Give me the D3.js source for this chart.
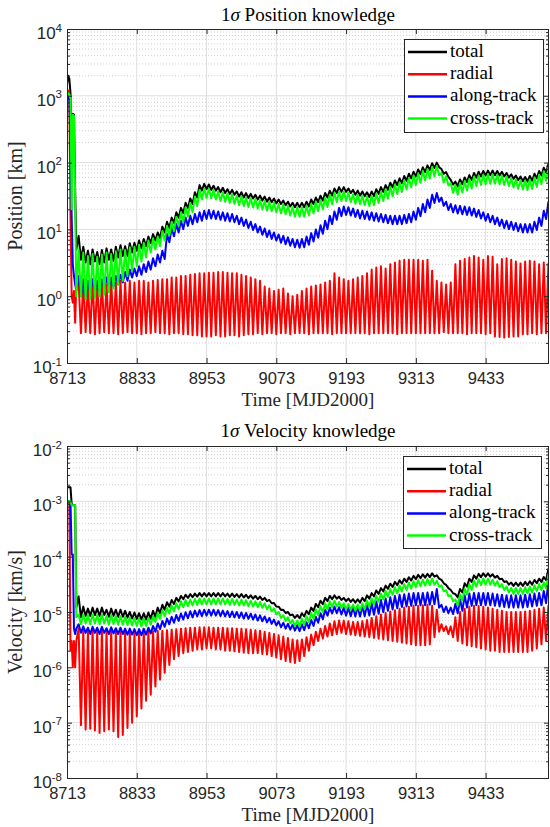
<!DOCTYPE html>
<html><head><meta charset="utf-8">
<script src="https://cdn.jsdelivr.net/npm/d3@7"></script>
<style>body{margin:0;background:#fff}svg{display:block}</style>
</head><body><svg id="c" width="550" height="827"></svg>
<script>
// ---------------- DATA ----------------
const xTicks = [8713, 8833, 8953, 9073, 9193, 9313, 9433];
const posExps = [-1, 0, 1, 2, 3, 4];
const velExps = [-8, -7, -6, -5, -4, -3, -2];
const legendLabels = ["total", "radial", "along-track", "cross-track"];

// launch transient samples (MJD2000)
const earlyT = [8713, 8715, 8717, 8719, 8721, 8723, 8725, 8727, 8729];
const posTotalEarly  = [1500, 2000, 1800, 1100, 60, 540, 520, 40, 5];
const posRadialEarly = [1000, 1200, 1100, 15, 1.0, 0.8, 1.2, 0.4, 1.5];
const posAlongEarly  = [900, 1000, 900, 200, 16, 3, 2, 1.5, 1.2];
const posCrossEarly  = [1000, 1100, 1050, 900, 20, 520, 500, 30, 1.0];
const velTotalEarly  = [1.8e-3, 1.8e-3, 1.8e-3, 1.8e-3, 9e-4, 8.5e-4, 8.5e-4, 8.5e-4, 1.2e-5];
const velRadialEarly = [1e-3, 1e-3, 9e-4, 2e-6, 3e-6, 1e-6, 3e-6, 1e-6, 3e-6];
const velAlongEarly  = [1e-3, 1e-3, 1e-3, 1e-3, 1.1e-4, 1.1e-4, 5e-6, 4e-6, 5e-6];
const velCrossEarly  = [1e-3, 1e-3, 1e-3, 1e-3, 8.5e-4, 8.5e-4, 8.5e-4, 8.5e-4, 8e-6];

// orbit-by-orbit maxima / minima epochs
const peakT = [8733,8741,8749,8757,8765,8773,8781,8789,8797,8805,
8813,8821,8829,8837,8845,8853,8861,8869,8877,8885,
8893,8901,8909,8917,8925,8933,8941,8949,8957,8965,
8973,8981,8989,8997,9005,9013,9021,9029,9037,9045,
9053,9061,9069,9077,9085,9093,9101,9109,9117,9125,
9133,9141,9149,9157,9165,9173,9181,9189,9197,9205,
9213,9221,9229,9237,9245,9253,9261,9269,9277,9285,
9293,9301,9309,9317,9325,9333,9341,9349,9357,9365,
9373,9381,9389,9397,9405,9413,9421,9429,9437,9445,
9453,9461,9469,9477,9485,9493,9501,9509,9517,9525,
9533,9541];
const troughT = [8737,8745,8753,8761,8769,8777,8785,8793,8801,8809,
8817,8825,8833,8841,8849,8857,8865,8873,8881,8889,
8897,8905,8913,8921,8929,8937,8945,8953,8961,8969,
8977,8985,8993,9001,9009,9017,9025,9033,9041,9049,
9057,9065,9073,9081,9089,9097,9105,9113,9121,9129,
9137,9145,9153,9161,9169,9177,9185,9193,9201,9209,
9217,9225,9233,9241,9249,9257,9265,9273,9281,9289,
9297,9305,9313,9321,9329,9337,9345,9353,9361,9369,
9377,9385,9393,9401,9409,9417,9425,9433,9441,9449,
9457,9465,9473,9481,9489,9497,9505,9513,9521,9529,
9537,9545];

// Position [km]
const posTotalHi = [8,5.5,4.8,5,4.6,4.9,5.2,5,5.5,5.8,
5.6,6.2,6.3,6.8,7.2,7.8,8.5,9,11,13,
15,18,21,25,29,36,46,48,47,45,
43,42,40,39,37,36,35,34,33,32,
31,30,29,28,27,26,25,25,25,26,
28,30,32,35,38,41,43,43,41,39,
38,37,36,37,40,43,46,50,54,58,
63,68,73,79,85,91,98,100,80,72,
55,52,56,60,65,70,73,75,76,76,
75,73,70,67,64,62,61,63,68,75,
84,95];
const posTotalLo = [3.5,3.2,3,3.3,3,3.2,3.5,3.4,3.8,4,
4,4.5,4.8,5.2,5.6,6.2,6.8,7.4,9,10.5,
12.5,15,17.5,21,24,30,38,40,39,38,
36,35,34,33,31,30,29.5,29,28,27,
26,25.5,24.5,24,23,22,21.5,21.5,21.5,22,
24,25.5,27,30,32,35,36.5,36.5,35,33,
32,31.5,30.5,31.5,34,36.5,39,42.5,46,49,
53.5,58,62,67,72,77,83,85,68,61,
47,44,47.5,51,55,59.5,62,64,64.5,64.5,
64,62,59.5,57,54.5,52.5,52,53.5,58,64,
71,81];
const posRadialHi = [1.6,1.7,1.5,1.8,1.6,1.7,1.5,1.8,1.6,1.7,
1.6,1.7,1.6,1.7,1.7,1.6,1.7,1.75,1.8,1.8,
1.9,1.9,2,2,2.1,2.15,2.2,2.2,2.25,2.25,
2.3,2.3,2.25,2.2,2.2,2.1,2,1.9,1.8,1.7,
1.4,1.3,1.2,1.25,1.3,1.1,1,1.05,1.2,1.3,
1.4,1.45,1.5,1.6,1.7,2.2,1.9,1.8,1.7,1.8,
1.9,2,2.2,2.5,2.7,2.8,2.6,3,3.2,3.4,
3.5,3.5,3.5,3.5,3.4,3.5,2.4,1.7,1.6,1.5,
1.6,3,3.4,3.6,3.8,4,3.8,3.5,4,3.9,
3,3.6,3.7,3.5,3.3,3.1,3.3,3.4,3.3,3,
3.2,3.1];
const posRadialLo = [0.28,0.29,0.28,0.27,0.28,0.29,0.28,0.28,0.27,0.28,
0.29,0.28,0.28,0.27,0.28,0.28,0.29,0.28,0.28,0.27,
0.28,0.28,0.27,0.27,0.26,0.26,0.25,0.25,0.25,0.26,
0.25,0.25,0.26,0.26,0.25,0.26,0.27,0.27,0.28,0.27,
0.28,0.28,0.27,0.28,0.28,0.27,0.28,0.28,0.28,0.27,
0.28,0.28,0.28,0.28,0.27,0.28,0.28,0.28,0.28,0.28,
0.28,0.28,0.27,0.28,0.28,0.28,0.28,0.28,0.27,0.28,
0.28,0.28,0.28,0.28,0.28,0.28,0.28,0.28,0.29,0.28,
0.28,0.28,0.28,0.27,0.28,0.28,0.28,0.27,0.28,0.25,
0.245,0.24,0.245,0.25,0.25,0.27,0.27,0.28,0.27,0.28,
0.28,0.28];
const posAlongHi = [2,1.8,1.7,1.8,1.7,1.8,1.9,1.9,2,2.1,
2.3,2.5,2.6,2.8,3,3.3,3.7,4.2,4.8,8.5,
10.5,12,13.5,15,16,17,18,19,19.5,19,
18.5,18,17.5,17,16,15,14,13,12,11,
10.3,9.6,9,8.4,8,7.6,7.2,7,7.2,7.8,
8.8,10,11.5,13.5,16,18.5,21,22,21.5,20.5,
19.5,19,18.5,18,17.5,17,16.5,16,16,16,
16.5,17,18.5,21,24,28,33,35,30,26,
24,23,22.5,22,21.5,20.5,19.5,18,17,16,
15,14,13.5,13,12.5,12,12,12,13,15,
19,26];
const posAlongLo = [1,1,1.1,1.2,1.2,1.3,1.35,1.4,1.5,1.6,
1.7,1.9,2,2.1,2.3,2.5,2.8,3.2,3.6,6.4,
7.9,9,10.1,11.3,12,12.8,13.5,14.3,14.6,14.3,
13.9,13.5,13.1,12.8,12,11.3,10.5,9.8,9,8.3,
7.7,7.2,6.8,6.3,6,5.7,5.4,5.3,5.4,5.9,
6.6,7.5,8.6,10.1,12,13.9,15.8,16.5,16.1,15.4,
14.6,14.3,13.9,13.5,13.1,12.8,12.4,12,12,12,
12.4,12.8,13.9,15.8,18,21,24.8,26,22.5,19.5,
18,17.3,16.9,16.5,16.1,15.4,14.6,13.5,12.8,12,
11.3,10.5,10.1,9.8,9.4,9,9,9,9.8,11.3,
14.3,19.5];
const posCrossHi = [5,4.5,4,4.3,3.9,4.2,4.5,4.3,4.7,5,
4.9,5.4,5.5,5.9,6.3,6.8,7.4,7.8,9.5,11.3,
13,15.5,18,21.5,25,31,39,41,40.5,39,
37,36,34.5,33.5,32,31,30,29.5,28.5,27.5,
26.5,26,25,24,23.5,22.5,21.5,21.5,21.5,22.5,
24,26,27.5,30,33,35.5,37,37,35.5,33.5,
33,32,31,32,34.5,37,40,43.5,47,50.5,
55,59,64,69,75,80,87,90,70,63,
49,46,49.5,53,57,62,64,66,67,67,
66,64,62,59,56.5,55,54,56,60,66,
74,85];
const posCrossLo = [1,0.9,0.9,0.95,1,1.05,1.15,1.3,1.5,1.7,
2,2.4,2.8,3.3,3.8,4.5,5,5.6,6.8,8.1,
9.4,11.2,13,15.5,18,22.3,28,29.5,29.2,28,
26.6,25.9,24.8,24.1,23,22.3,21.6,21.2,20.5,19.8,
19.1,18.7,18,17.3,16.9,16.2,15.5,15.5,15.5,16.2,
17.3,18.7,19.8,21.6,23.8,25.6,26.6,26.6,25.6,24.1,
23.8,23,22.3,23,24.8,26.6,28.8,31.3,33.8,36.4,
39.6,42.5,46,49.7,54,57.6,62.6,64.8,50.4,45.4,
35.3,33.1,35.6,38.2,41,44.6,46,47.5,48.2,48.2,
47.5,46,44.6,42.5,40.7,39.6,38.9,40.3,43.2,47.5,
53.3,61.2];

// Velocity [km/s]
const velTotalHi = [1.9e-5,1.25e-5,1.15e-5,1.2e-5,1.15e-5,1.2e-5,1.1e-5,1.15e-5,1.1e-5,1.1e-5,
1.05e-5,1e-5,9.8e-6,9.5e-6,9.5e-6,9.8e-6,1.05e-5,1.2e-5,1.35e-5,1.5e-5,
1.65e-5,1.8e-5,1.95e-5,2.05e-5,2.1e-5,2.15e-5,2.2e-5,2.2e-5,2.2e-5,2.2e-5,
2.2e-5,2.2e-5,2.15e-5,2.15e-5,2.1e-5,2.1e-5,2.05e-5,2e-5,1.95e-5,1.9e-5,
1.8e-5,1.65e-5,1.45e-5,1.25e-5,1.1e-5,1e-5,9e-6,8.8e-6,9.5e-6,1.05e-5,
1.2e-5,1.4e-5,1.6e-5,1.8e-5,1.95e-5,2e-5,1.9e-5,1.8e-5,1.75e-5,1.7e-5,
1.7e-5,1.8e-5,2e-5,2.2e-5,2.45e-5,2.7e-5,3e-5,3.25e-5,3.5e-5,3.75e-5,
4e-5,4.25e-5,4.5e-5,4.7e-5,4.8e-5,4.9e-5,5e-5,4.6e-5,3.8e-5,3.1e-5,
2.5e-5,2.1e-5,2.6e-5,3.3e-5,4e-5,4.6e-5,4.9e-5,5e-5,5e-5,4.8e-5,
4.5e-5,4e-5,3.6e-5,3.4e-5,3.4e-5,3.4e-5,3.5e-5,3.6e-5,3.8e-5,4e-5,
4.3e-5,6e-5];
const velTotalLo = [8e-6,8.5e-6,8.5e-6,8.8e-6,8.5e-6,8.8e-6,8.2e-6,8.5e-6,8.2e-6,8.2e-6,
7.9e-6,7.6e-6,7.5e-6,7.3e-6,7.3e-6,7.6e-6,8.2e-6,9.5e-6,1.1e-5,1.25e-5,
1.4e-5,1.55e-5,1.7e-5,1.8e-5,1.85e-5,1.9e-5,1.92e-5,1.92e-5,1.92e-5,1.92e-5,
1.92e-5,1.92e-5,1.88e-5,1.88e-5,1.83e-5,1.83e-5,1.78e-5,1.74e-5,1.7e-5,1.65e-5,
1.57e-5,1.44e-5,1.26e-5,1.09e-5,9.6e-6,8.7e-6,7.8e-6,7.7e-6,8.3e-6,9.1e-6,
1.04e-5,1.22e-5,1.39e-5,1.57e-5,1.7e-5,1.74e-5,1.65e-5,1.57e-5,1.52e-5,1.48e-5,
1.48e-5,1.57e-5,1.74e-5,1.91e-5,2.13e-5,2.35e-5,2.61e-5,2.83e-5,3.05e-5,3.26e-5,
3.48e-5,3.7e-5,3.92e-5,4.09e-5,4.18e-5,4.26e-5,4.35e-5,4e-5,3.3e-5,2.7e-5,
2.18e-5,1.83e-5,2.26e-5,2.87e-5,3.48e-5,4e-5,4.26e-5,4.35e-5,4.35e-5,4.18e-5,
3.92e-5,3.48e-5,3.13e-5,2.96e-5,2.96e-5,2.96e-5,3.05e-5,3.13e-5,3.3e-5,3.48e-5,
3.74e-5,5.2e-5];
const velRadialHi = [5e-6,4.8e-6,4.6e-6,4.9e-6,4.7e-6,4.8e-6,4.6e-6,4.8e-6,4.6e-6,4.7e-6,
4.5e-6,4.6e-6,4.4e-6,4.5e-6,4.4e-6,4.5e-6,4.5e-6,4.6e-6,4.6e-6,4.7e-6,
4.8e-6,4.9e-6,5e-6,5.1e-6,5.2e-6,5.2e-6,5.3e-6,5.3e-6,5.3e-6,5.2e-6,
5.2e-6,5.2e-6,5.1e-6,5.1e-6,5e-6,5e-6,4.9e-6,4.8e-6,4.7e-6,4.6e-6,
4.4e-6,4.2e-6,4e-6,3.8e-6,3.6e-6,3.4e-6,3.2e-6,3.1e-6,3.2e-6,3.5e-6,
3.9e-6,4.4e-6,5e-6,5.6e-6,6.2e-6,6.8e-6,7e-6,7e-6,6.8e-6,6.6e-6,
6.6e-6,6.8e-6,7.2e-6,7.8e-6,8.4e-6,9e-6,9.6e-6,1.02e-5,1.08e-5,1.14e-5,
1.2e-5,1.25e-5,1.3e-5,1.3e-5,1.32e-5,1.35e-5,1.3e-5,1.1e-5,6e-6,5.5e-6,
5.5e-6,8e-6,1e-5,1.15e-5,1.25e-5,1.3e-5,1.28e-5,1.25e-5,1.2e-5,1.15e-5,
1.1e-5,1.05e-5,1e-5,1e-5,1e-5,1e-5,1.02e-5,1.05e-5,1.1e-5,1.15e-5,
1.2e-5,1.3e-5];
const velRadialLo = [9e-8,7.5e-8,7.8e-8,7.2e-8,6.5e-8,7e-8,7.5e-8,7e-8,5.5e-8,6e-8,
8e-8,1e-7,1.3e-7,1.8e-7,2.5e-7,3.2e-7,4.5e-7,6e-7,8e-7,1.1e-6,
1.4e-6,1.6e-6,1.8e-6,1.9e-6,2e-6,2.1e-6,2.1e-6,2.2e-6,2.2e-6,2.1e-6,
2.1e-6,2e-6,2e-6,1.95e-6,1.9e-6,1.85e-6,1.8e-6,1.8e-6,1.8e-6,1.75e-6,
1.7e-6,1.6e-6,1.5e-6,1.4e-6,1.3e-6,1.25e-6,1.2e-6,1.3e-6,1.6e-6,2e-6,
2.5e-6,3e-6,3.3e-6,3.6e-6,3.8e-6,4e-6,4.2e-6,4e-6,3.9e-6,3.8e-6,
3.7e-6,3.6e-6,3.5e-6,3.4e-6,3.3e-6,3.2e-6,3.1e-6,3e-6,2.9e-6,2.8e-6,
2.7e-6,2.6e-6,2.5e-6,2.5e-6,2.5e-6,2.6e-6,3.5e-6,4.4e-6,4.5e-6,4e-6,
3.5e-6,3e-6,2.7e-6,2.5e-6,2.4e-6,2.3e-6,2.2e-6,2.1e-6,2e-6,2e-6,
1.9e-6,1.9e-6,1.9e-6,1.9e-6,1.9e-6,1.9e-6,1.9e-6,2e-6,2.2e-6,2.6e-6,
3e-6,3.2e-6];
const velAlongHi = [6e-6,5.5e-6,5.2e-6,5.4e-6,5.2e-6,5.4e-6,5.1e-6,5.3e-6,5.1e-6,5.2e-6,
5e-6,5e-6,4.9e-6,4.9e-6,5e-6,5.2e-6,5.6e-6,6.2e-6,6.9e-6,7.6e-6,
8.2e-6,8.8e-6,9.4e-6,9.9e-6,1.03e-5,1.06e-5,1.08e-5,1.1e-5,1.1e-5,1.1e-5,
1.08e-5,1.06e-5,1.04e-5,1.02e-5,1e-5,9.8e-6,9.6e-6,9.3e-6,9e-6,8.7e-6,
8.3e-6,7.8e-6,7.3e-6,6.8e-6,6.4e-6,6.1e-6,5.9e-6,5.8e-6,6e-6,6.5e-6,
7.2e-6,8.2e-6,9.5e-6,1.1e-5,1.2e-5,1.25e-5,1.22e-5,1.2e-5,1.2e-5,1.22e-5,
1.25e-5,1.3e-5,1.37e-5,1.45e-5,1.55e-5,1.65e-5,1.75e-5,1.85e-5,1.95e-5,2.05e-5,
2.1e-5,2.15e-5,2.2e-5,2.2e-5,2.2e-5,2.25e-5,2.3e-5,2.6e-5,1.35e-5,1.25e-5,
1.2e-5,1.4e-5,1.7e-5,2e-5,2.15e-5,2.2e-5,2.2e-5,2.2e-5,2.2e-5,2.15e-5,
2.1e-5,2.05e-5,2e-5,2e-5,2e-5,2e-5,2.05e-5,2.1e-5,2.15e-5,2.2e-5,
2.4e-5,3.8e-5];
const velAlongLo = [4.2e-6,4.2e-6,4e-6,4.2e-6,4e-6,4.2e-6,4e-6,4.1e-6,4e-6,4e-6,
3.9e-6,3.9e-6,3.8e-6,3.8e-6,3.9e-6,4.1e-6,4.4e-6,4.9e-6,5.4e-6,6e-6,
6.4e-6,6.9e-6,7.3e-6,7.7e-6,8e-6,8.3e-6,8.4e-6,8.6e-6,8.6e-6,8.6e-6,
8.4e-6,8.3e-6,8.1e-6,8e-6,7.8e-6,7.6e-6,7.5e-6,7.3e-6,7e-6,6.8e-6,
6.5e-6,6.1e-6,5.7e-6,5.3e-6,5e-6,4.8e-6,4.6e-6,4.5e-6,4.7e-6,5.1e-6,
5.6e-6,6.4e-6,7.4e-6,8.6e-6,9.4e-6,9.5e-6,9e-6,8.6e-6,8.4e-6,8.3e-6,
8.3e-6,8.4e-6,8.6e-6,8.9e-6,9.3e-6,9.9e-6,1.05e-5,1.11e-5,1.17e-5,1.23e-5,
1.26e-5,1.29e-5,1.32e-5,1.32e-5,1.32e-5,1.35e-5,1.38e-5,1.2e-5,1e-5,9.5e-6,
9.2e-6,9.5e-6,1.05e-5,1.2e-5,1.29e-5,1.32e-5,1.32e-5,1.32e-5,1.32e-5,1.29e-5,
1.26e-5,1.23e-5,1.2e-5,1.2e-5,1.2e-5,1.2e-5,1.23e-5,1.26e-5,1.29e-5,1.32e-5,
1.44e-5,2.3e-5];
const velCrossHi = [9e-6,9e-6,8.8e-6,9e-6,8.8e-6,9e-6,8.5e-6,8.8e-6,8.5e-6,8.5e-6,
8.2e-6,8e-6,7.8e-6,7.6e-6,7.6e-6,7.8e-6,8.4e-6,9.6e-6,1.08e-5,1.2e-5,
1.32e-5,1.44e-5,1.56e-5,1.64e-5,1.68e-5,1.72e-5,1.76e-5,1.76e-5,1.76e-5,1.76e-5,
1.76e-5,1.76e-5,1.72e-5,1.72e-5,1.68e-5,1.68e-5,1.64e-5,1.6e-5,1.56e-5,1.52e-5,
1.44e-5,1.32e-5,1.16e-5,1e-5,8.8e-6,8e-6,7.2e-6,7e-6,7.6e-6,8.4e-6,
9.6e-6,1.12e-5,1.28e-5,1.44e-5,1.56e-5,1.6e-5,1.52e-5,1.44e-5,1.4e-5,1.36e-5,
1.36e-5,1.44e-5,1.6e-5,1.76e-5,1.96e-5,2.16e-5,2.4e-5,2.6e-5,2.8e-5,3e-5,
3.2e-5,3.4e-5,3.6e-5,3.76e-5,3.84e-5,3.92e-5,4e-5,3.68e-5,3.04e-5,2.48e-5,
2e-5,1.68e-5,2.08e-5,2.64e-5,3.2e-5,3.68e-5,3.92e-5,4e-5,4e-5,3.84e-5,
3.6e-5,3.2e-5,2.88e-5,2.72e-5,2.72e-5,2.72e-5,2.8e-5,2.88e-5,3.04e-5,3.2e-5,
3.44e-5,4.8e-5];
const velCrossLo = [6e-6,6.2e-6,6e-6,6.2e-6,6e-6,6.2e-6,5.9e-6,6.1e-6,5.9e-6,5.9e-6,
5.8e-6,5.7e-6,5.6e-6,5.5e-6,5.6e-6,5.9e-6,6.6e-6,7.5e-6,8.4e-6,9.4e-6,
1.03e-5,1.12e-5,1.22e-5,1.28e-5,1.31e-5,1.34e-5,1.37e-5,1.37e-5,1.37e-5,1.37e-5,
1.37e-5,1.37e-5,1.34e-5,1.34e-5,1.31e-5,1.31e-5,1.28e-5,1.25e-5,1.22e-5,1.19e-5,
1.12e-5,1.03e-5,9.05e-6,7.8e-6,6.86e-6,6.24e-6,5.62e-6,5.46e-6,5.93e-6,6.55e-6,
7.49e-6,8.74e-6,1e-5,1.12e-5,1.22e-5,1.25e-5,1.19e-5,1.12e-5,1.09e-5,1.06e-5,
1.06e-5,1.12e-5,1.25e-5,1.37e-5,1.53e-5,1.68e-5,1.87e-5,2.03e-5,2.18e-5,2.34e-5,
2.5e-5,2.65e-5,2.81e-5,2.93e-5,3e-5,3.06e-5,3.12e-5,2.87e-5,2.37e-5,1.93e-5,
1.56e-5,1.31e-5,1.62e-5,2.06e-5,2.5e-5,2.87e-5,3.06e-5,3.12e-5,3.12e-5,3e-5,
2.81e-5,2.5e-5,2.25e-5,2.12e-5,2.12e-5,2.12e-5,2.18e-5,2.25e-5,2.37e-5,2.5e-5,
2.68e-5,3.74e-5];

// ---------------- DRAWING ----------------
const colors = ["#000000", "#ff0000", "#0000ff", "#00ff00"];
const serif = "'Liberation Serif','Times New Roman',serif";
const sans = "'Liberation Sans',Arial,Helvetica,sans-serif";
const axisCol = "#262626";
const svg = d3.select("#c");

function buildPoints(early, hi, lo) {
  const pts = earlyT.map((t, i) => [t, early[i]]);
  peakT.forEach((t, k) => { pts.push([t, hi[k]]); pts.push([troughT[k], lo[k]]); });
  return pts;
}

function panel(cfg) {
  const b = cfg.box;
  const x = d3.scaleLinear().domain([8713, 9542]).range([b.left, b.right]);
  const y = d3.scaleLog().domain([Math.pow(10, cfg.exps[0]), Math.pow(10, cfg.exps[cfg.exps.length - 1])]).range([b.bottom, b.top]);
  const g = svg.append("g");
  const decades = cfg.exps.map(e => Math.pow(10, e));
  const minors = [];
  for (let i = 0; i < cfg.exps.length - 1; i++) for (let m = 2; m <= 9; m++) minors.push(m * Math.pow(10, cfg.exps[i]));

  // grid
  const grid = g.append("g");
  grid.selectAll(".mn").data(minors).join("line")
    .attr("x1", b.left).attr("x2", b.right).attr("y1", d => y(d)).attr("y2", d => y(d))
    .attr("stroke", "#c4c4c4").attr("stroke-width", 0.8).attr("stroke-dasharray", "1,2");
  grid.selectAll(".mj").data(decades.slice(1, -1)).join("line")
    .attr("x1", b.left).attr("x2", b.right).attr("y1", d => y(d)).attr("y2", d => y(d))
    .attr("stroke", "#dedede").attr("stroke-width", 1);
  grid.selectAll(".vx").data(xTicks.slice(1)).join("line")
    .attr("x1", d => x(d)).attr("x2", d => x(d)).attr("y1", b.top).attr("y2", b.bottom)
    .attr("stroke", "#dedede").attr("stroke-width", 1);

  // data
  const clipId = "clip" + cfg.id;
  svg.append("clipPath").attr("id", clipId).append("rect")
    .attr("x", b.left).attr("y", b.top).attr("width", b.right - b.left).attr("height", b.bottom - b.top);
  const line = d3.line().x(d => x(d[0])).y(d => y(d[1]));
  const lg = g.append("g").attr("clip-path", `url(#${clipId})`);
  cfg.series.forEach((s, i) => {
    lg.append("path").datum(buildPoints(s[0], s[1], s[2]))
      .attr("d", line).attr("fill", "none").attr("stroke", colors[i])
      .attr("stroke-width", 2).attr("stroke-linejoin", "round");
  });

  // axes
  const fontAxis = sel => sel.selectAll("text").attr("font-family", sans).attr("font-size", 16.5).attr("fill", axisCol);
  const styleTicks = sel => { sel.select(".domain").remove(); sel.selectAll("line").attr("stroke", axisCol); };
  g.append("g").attr("transform", `translate(0,${b.bottom})`)
    .call(d3.axisBottom(x).tickValues(xTicks).tickSize(-5).tickPadding(9).tickFormat(d3.format("d")))
    .call(styleTicks).call(fontAxis);
  g.append("g").attr("transform", `translate(0,${b.top})`)
    .call(d3.axisTop(x).tickValues(xTicks).tickSize(-5).tickFormat(""))
    .call(styleTicks);
  const yl = g.append("g").attr("transform", `translate(${b.left},0)`)
    .call(d3.axisLeft(y).tickValues(decades).tickSize(-5).tickPadding(5).tickFormat(() => ""))
    .call(styleTicks);
  yl.selectAll(".tick text").each(function (d) {
    const t = d3.select(this);
    t.attr("dy", null).attr("y", 9.5).attr("font-family", sans).attr("font-size", 17).attr("fill", axisCol);
    t.append("tspan").text("10");
    t.append("tspan").attr("dy", -7.5).attr("font-size", 11.5).text(Math.round(Math.log10(d)));
  });
  g.append("g").attr("transform", `translate(${b.left},0)`)
    .call(d3.axisLeft(y).tickValues(minors).tickSize(-3).tickFormat(""))
    .call(styleTicks);
  g.append("g").attr("transform", `translate(${b.right},0)`)
    .call(d3.axisRight(y).tickValues(decades).tickSize(-5).tickFormat(""))
    .call(styleTicks);
  g.append("g").attr("transform", `translate(${b.right},0)`)
    .call(d3.axisRight(y).tickValues(minors).tickSize(-3).tickFormat(""))
    .call(styleTicks);

  g.append("rect").attr("x", b.left + 0.5).attr("y", b.top + 0.5)
    .attr("width", b.right - b.left - 1).attr("height", b.bottom - b.top)
    .attr("fill", "none").attr("stroke", axisCol).attr("stroke-width", 1);

  // title
  const cx = (b.left + b.right) / 2;
  const tt = g.append("text").attr("x", cx).attr("y", cfg.titleY).attr("text-anchor", "middle")
    .attr("font-family", serif).attr("font-size", 19).attr("fill", "#000");
  tt.append("tspan").text("1");
  tt.append("tspan").attr("font-style", "italic").text("σ");
  tt.append("tspan").text(" " + cfg.title);

  g.append("text").attr("x", cx).attr("y", cfg.xLabelY).attr("text-anchor", "middle")
    .attr("font-family", serif).attr("font-size", 19).attr("fill", axisCol).text("Time [MJD2000]");
  g.append("text").attr("transform", `translate(22,${(b.top + b.bottom) / 2}) rotate(-90)`)
    .attr("text-anchor", "middle").attr("font-family", serif).attr("font-size", 20)
    .attr("fill", axisCol).text(cfg.yLabel);

  // legend
  const L = cfg.legend;
  const leg = g.append("g").attr("transform", `translate(${L.x},${L.y})`);
  leg.append("rect").attr("x", 0.5).attr("y", 0.5).attr("width", L.w).attr("height", L.h)
    .attr("fill", "#fff").attr("stroke", axisCol).attr("stroke-width", 1);
  legendLabels.forEach((lab, i) => {
    const by = 18 + 22.2 * i;
    leg.append("line").attr("x1", 4).attr("x2", 43).attr("y1", by - 5).attr("y2", by - 5)
      .attr("stroke", colors[i]).attr("stroke-width", 2.5);
    leg.append("text").attr("x", 46).attr("y", by).attr("font-family", serif).attr("font-size", 19)
      .attr("fill", "#000").text(lab);
  });
}

panel({
  id: "p", box: { left: 67, top: 29, right: 549, bottom: 363 }, exps: posExps,
  title: "Position knowledge", titleY: 21, xLabelY: 406, yLabel: "Position [km]",
  legend: { x: 404, y: 39, w: 139, h: 93 },
  series: [[posTotalEarly, posTotalHi, posTotalLo], [posRadialEarly, posRadialHi, posRadialLo],
           [posAlongEarly, posAlongHi, posAlongLo], [posCrossEarly, posCrossHi, posCrossLo]]
});
panel({
  id: "v", box: { left: 67, top: 446, right: 549, bottom: 778 }, exps: velExps,
  title: "Velocity knowledge", titleY: 437, xLabelY: 821, yLabel: "Velocity [km/s]",
  legend: { x: 403, y: 456, w: 138, h: 92 },
  series: [[velTotalEarly, velTotalHi, velTotalLo], [velRadialEarly, velRadialHi, velRadialLo],
           [velAlongEarly, velAlongHi, velAlongLo], [velCrossEarly, velCrossHi, velCrossLo]]
});
</script>
</body></html>
